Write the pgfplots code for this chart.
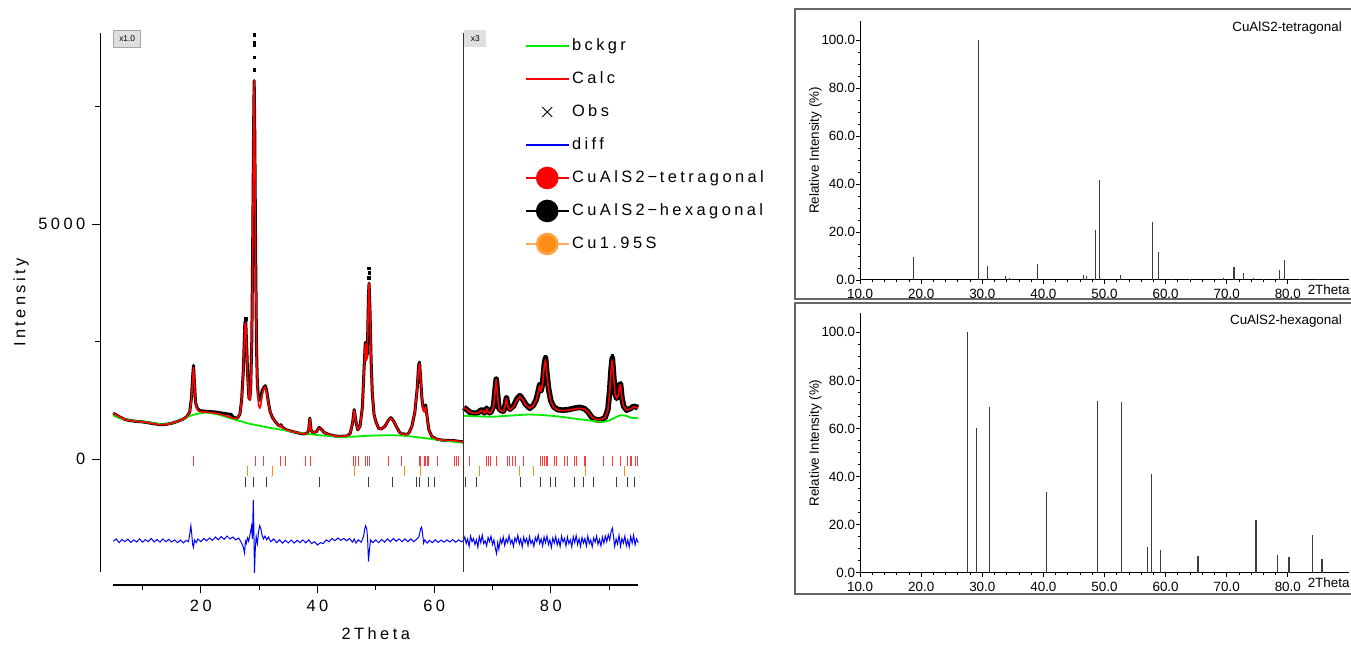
\documentclass[border=0pt]{standalone}
\usepackage{fontspec}
\setmainfont{Liberation Sans}
\newfontfamily\wide[LetterSpace=21]{Liberation Sans}
\usepackage{pgfplots}
\pgfplotsset{compat=1.18}
\definecolor{cgreen}{RGB}{0,235,0}
\definecolor{cred}{RGB}{255,0,0}
\definecolor{tkred}{RGB}{255,60,60}
\definecolor{corange}{RGB}{255,140,20}
\definecolor{cstick}{RGB}{60,60,60}

\begin{document}
\begin{tikzpicture}
\path[use as bounding box] (0,0) rectangle (675.5pt,324pt);

% ---------------- Rietveld plot ----------------
\begin{axis}[
  at={(56.65pt,38pt)}, anchor=south west, scale only axis,
  width=262.5pt, height=269.5pt,
  xmin=5, xmax=95, ymin=-2404, ymax=9064, clip=false,
  axis x line=bottom, axis y line=left, separate axis lines,
  axis x line shift=6.5pt, axis y line shift=6.5pt,
  axis line style={-, line width=0.6pt},
  xtick={20,40,60,80}, minor xtick={10,30,50,70,90},
  ytick={0,5000}, minor ytick={2500,7500},
  tick align=outside, major tick length=4pt, minor tick length=2.5pt,
  tick style={black, line width=0.5pt},
  /pgf/number format/assume math mode=true,
  /pgf/number format/1000 sep={},
  tick label style={font=\wide\fontsize{8.2}{9}\selectfont},
  label style={font=\wide\fontsize{8.2}{9}\selectfont},
  xlabel={2Theta}, ylabel={Intensity},
  ylabel style={yshift=-2pt}, xlabel style={yshift=-1pt},
  legend style={draw=none, fill=none, at={(rel axis cs:0.771,1.0045)}, anchor=north west,
    font=\wide\fontsize{8.2}{9}\selectfont, row sep=5.5pt,
    nodes={inner sep=1pt, text height=7pt, text depth=2pt},
    /tikz/every even column/.append style={column sep=1pt}},
  legend cell align=left,
  legend image code/.code={\draw[mark repeat=2,mark phase=2,#1] plot coordinates {(0pt,0pt) (10.75pt,0pt) (21.5pt,0pt)};},
]
\addlegendimage{cgreen, line width=1.3pt}\addlegendentry{bckgr}
\addlegendimage{cred, line width=1.3pt}\addlegendentry{Calc}
\addlegendimage{only marks, mark=x, mark size=3.5pt, black, line width=0.5pt}\addlegendentry{Obs}
\addlegendimage{blue, line width=1.3pt}\addlegendentry{diff}
\addlegendimage{cred, line width=1.3pt, mark=*, mark size=5pt, mark options={fill=cred}}\addlegendentry{CuAlS2\,\textminus\,tetragonal}
\addlegendimage{black, line width=1.3pt, mark=*, mark size=5pt, mark options={fill=black}}\addlegendentry{CuAlS2\,\textminus\,hexagonal}
\addlegendimage{corange!70, line width=1.3pt, mark=*, mark size=5pt, mark options={fill=corange, draw=corange!80}}\addlegendentry{Cu1.95S}

% reflection markers
\addplot[forget plot, only marks, mark=|, mark size=2.5pt, tkred, mark options={line width=0.5pt}] coordinates {
(18.8,-45) (29.3,-45) (30.7,-45) (33.7,-45) (34.5,-45) (37.9,-45) (38.8,-45)
(46.2,-45) (46.6,-45) (47.0,-45) (48.3,-45) (48.6,-45) (49.0,-45) (52.2,-45) (54.4,-45)
(57.5,-45) (57.7,-45) (58.4,-45) (58.5,-45) (58.8,-45) (59.0,-45) (60.6,-45)
(63.5,-45) (63.8,-45) (64.1,-45) (66.0,-45) (69.0,-45) (69.4,-45) (69.7,-45) (70.7,-45)
(72.5,-45) (73.0,-45) (73.4,-45) (74.0,-45) (75.3,-45) (78.3,-45) (78.6,-45) (79.0,-45)
(79.2,-45) (79.5,-45) (80.7,-45) (81.0,-45) (82.4,-45) (82.9,-45) (84.1,-45) (84.4,-45)
(85.7,-45) (86.0,-45) (89.1,-45) (90.6,-45) (92.0,-45) (93.2,-45) (93.6,-45) (93.9,-45)
(94.6,-45) (94.9,-45)};
\addplot[forget plot, only marks, mark=|, mark size=2.5pt, corange, mark options={line width=0.5pt}] coordinates {
(28.0,-265) (32.3,-265) (46.3,-265) (55.0,-265) (57.7,-265) (67.7,-265) (74.7,-265)
(77.1,-265) (85.9,-265) (92.7,-265)};
\addplot[forget plot, only marks, mark=|, mark size=2.5pt, cstick, mark options={line width=0.5pt}] coordinates {
(27.6,-490) (29.0,-490) (31.2,-490) (40.4,-490) (48.8,-490) (52.8,-490) (57.0,-490)
(57.5,-490) (59.1,-490) (60.0,-490) (65.3,-490) (67.3,-490) (74.8,-490) (78.3,-490)
(80.0,-490) (80.8,-490) (84.1,-490) (85.6,-490) (87.4,-490) (91.3,-490) (93.1,-490) (94.3,-490)};

% difference curve
\addplot[forget plot, blue, line width=0.5pt] coordinates {
(5.0,-1750) (5.5,-1700) (6.0,-1780) (6.5,-1710) (7.0,-1760) (7.5,-1705) (8.0,-1775) (8.5,-1720)
(9.0,-1765) (9.5,-1700) (10.0,-1770) (10.5,-1715) (11.0,-1760) (11.5,-1690) (12.0,-1765) (12.5,-1710)
(13.0,-1770) (13.5,-1700) (14.0,-1760) (14.5,-1710) (15.0,-1765) (15.5,-1720) (16.0,-1780) (16.5,-1725)
(17.0,-1785) (17.5,-1730) (17.9,-1760) (18.15,-1550) (18.3,-1420) (18.45,-1600) (18.6,-1820) (18.75,-1880)
(18.9,-1720) (19.2,-1780) (19.5,-1700) (20.0,-1760) (20.5,-1690) (21.0,-1740) (21.5,-1680) (22.0,-1730)
(22.5,-1660) (23.0,-1720) (23.5,-1650) (24.0,-1710) (24.5,-1640) (25.0,-1700) (25.5,-1660) (26.0,-1720)
(26.5,-1680) (27.0,-1790) (27.3,-1880) (27.5,-2000) (27.65,-1750) (27.8,-1800) (28.0,-1680) (28.2,-1750)
(28.45,-1600) (28.7,-1430) (28.85,-1700) (29.0,-870) (29.1,-1500) (29.2,-2420) (29.35,-1900) (29.5,-1650)
(29.7,-1800) (29.9,-1550) (30.1,-1420) (30.3,-1480) (30.5,-1620) (30.75,-1700) (31.0,-1640) (31.3,-1720)
(31.6,-1660) (32.0,-1760) (32.5,-1700) (33.0,-1780) (33.5,-1720) (34.0,-1790) (34.5,-1730) (35.0,-1785)
(35.5,-1725) (36.0,-1790) (36.5,-1730) (37.0,-1780) (37.5,-1720) (38.0,-1785) (38.5,-1720) (39.0,-1800)
(39.5,-1760) (40.0,-1830) (40.5,-1780) (41.0,-1800) (41.5,-1720) (42.0,-1760) (42.5,-1690) (43.0,-1740)
(43.5,-1680) (44.0,-1730) (44.5,-1690) (45.0,-1740) (45.5,-1690) (46.0,-1770) (46.3,-1700) (46.6,-1790)
(47.0,-1720) (47.5,-1770) (47.9,-1650) (48.1,-1500) (48.25,-1420) (48.45,-1480) (48.6,-1700) (48.75,-2180)
(48.9,-1950) (49.1,-1720) (49.5,-1780) (50.0,-1720) (50.5,-1780) (51.0,-1710) (51.5,-1770) (52.0,-1700)
(52.5,-1760) (53.0,-1690) (53.5,-1750) (54.0,-1700) (54.5,-1760) (55.0,-1700) (55.5,-1760) (56.0,-1700)
(56.5,-1760) (57.0,-1710) (57.4,-1650) (57.7,-1480) (57.85,-1450) (58.0,-1560) (58.2,-1790) (58.4,-1720)
(58.8,-1790) (59.2,-1730) (59.7,-1780) (60.2,-1720) (60.7,-1775) (61.2,-1725) (61.7,-1770) (62.2,-1720)
(62.7,-1765) (63.2,-1715) (63.7,-1770) (64.2,-1720) (64.7,-1760) (65.0,-1740)
(65.25,-1660) (65.5,-1800) (65.75,-1700) (66.0,-1860) (66.25,-1640) (66.5,-1760) (66.75,-1690) (67.0,-1820)
(67.25,-1720) (67.5,-1880) (67.75,-1650) (68.0,-1780) (68.25,-1620) (68.5,-1800) (68.75,-1740) (69.0,-1850)
(69.25,-1670) (69.5,-1760) (69.75,-1640) (70.0,-1820) (70.25,-1720) (70.5,-1900) (70.7,-2010) (70.9,-1780)
(71.1,-1920) (71.35,-1700) (71.6,-1800) (71.85,-1660) (72.1,-1840) (72.35,-1700) (72.6,-1780) (72.85,-1630)
(73.1,-1800) (73.35,-1720) (73.6,-1860) (73.85,-1680) (74.1,-1760) (74.35,-1620) (74.6,-1810) (74.85,-1700)
(75.1,-1870) (75.35,-1660) (75.6,-1780) (75.85,-1690) (76.1,-1840) (76.35,-1650) (76.6,-1800) (76.85,-1730)
(77.1,-1860) (77.35,-1670) (77.6,-1760) (77.85,-1620) (78.1,-1800) (78.35,-1700) (78.6,-1850) (78.85,-1660)
(79.1,-1780) (79.35,-1640) (79.6,-1820) (79.85,-1720) (80.1,-1880) (80.35,-1680) (80.6,-1790) (80.85,-1650)
(81.1,-1830) (81.35,-1710) (81.6,-1860) (81.85,-1640) (82.1,-1770) (82.35,-1690) (82.6,-1850) (82.85,-1660)
(83.1,-1800) (83.35,-1720) (83.6,-1870) (83.85,-1650) (84.1,-1780) (84.35,-1630) (84.6,-1820) (84.85,-1700)
(85.1,-1860) (85.35,-1670) (85.6,-1790) (85.85,-1690) (86.1,-1850) (86.35,-1640) (86.6,-1800) (86.85,-1720)
(87.1,-1870) (87.35,-1680) (87.6,-1770) (87.85,-1640) (88.1,-1820) (88.35,-1710) (88.6,-1850) (88.85,-1660)
(89.1,-1790) (89.35,-1640) (89.6,-1760) (89.85,-1610) (90.1,-1720) (90.35,-1540) (90.55,-1470) (90.75,-1640)
(90.95,-1860) (91.2,-1700) (91.45,-1810) (91.7,-1620) (91.95,-1860) (92.2,-1690) (92.45,-1790) (92.7,-1640)
(92.95,-1850) (93.2,-1720) (93.45,-1870) (93.7,-1650) (93.95,-1790) (94.2,-1620) (94.45,-1830) (94.7,-1700)
(95.0,-1780)};

% observed (x1.0 part)
\addplot[forget plot, black, line width=1.5pt, line join=round] coordinates {
(5.0,975) (6.0,900) (7.0,840) (8.0,815) (9.0,800) (10.0,790) (11.0,770) (12.0,750) (13.0,730)
(14.0,735) (15.0,760) (16.0,800) (17.0,850) (17.6,900) (18.1,1000) (18.4,1300) (18.6,1750)
(18.75,1990) (18.9,1650) (19.1,1200) (19.4,1080) (19.8,1030) (20.5,1020) (21.5,1010) (22.5,1000)
(23.5,980) (24.5,960) (25.2,950) (25.5,900) (26.2,860) (26.7,950) (27.0,1250) (27.3,1900)
(27.55,2900) (27.7,2950) (27.85,2450) (28.05,1750) (28.25,1300) (28.4,1270) (28.55,1500) (28.75,2550)
(28.9,4600) (29.05,7000) (29.15,8050) (29.25,7000) (29.4,4400) (29.55,2400) (29.7,1600) (29.9,1300)
(30.1,1250) (30.3,1300) (30.5,1450) (30.8,1520) (31.05,1560) (31.3,1450) (31.6,1200) (31.9,1000)
(32.3,880) (32.8,790) (33.3,720) (33.6,700) (33.75,730) (33.9,690) (34.5,630) (35.5,590) (36.5,560)
(37.5,535) (38.2,540) (38.5,620) (38.7,870) (38.9,620) (39.2,560) (39.8,580) (40.3,670) (40.6,640)
(41.2,560) (42.0,520) (43.0,490) (44.0,480) (45.0,490) (45.6,540) (46.0,750) (46.3,1050) (46.6,800)
(46.9,620) (47.3,700) (47.7,1100) (48.0,1950) (48.2,2480) (48.4,2150) (48.55,2250) (48.75,3500)
(48.85,3740) (49.0,3200) (49.2,2100) (49.4,1400) (49.7,950) (50.0,800) (50.5,650) (51.0,640)
(51.6,700) (52.2,830) (52.6,880) (53.0,820) (53.5,700) (54.0,580) (54.5,520) (54.8,540) (55.2,510)
(55.7,560) (56.2,700) (56.7,1000) (57.1,1500) (57.35,2000) (57.5,2060) (57.7,1700) (57.9,1300)
(58.1,1100) (58.3,1050) (58.55,1150) (58.8,900) (59.1,620) (59.6,480) (60.5,420) (61.5,400)
(62.5,395) (63.5,390) (64.5,370) (64.95,365)};
% observed (x3 part)
\addplot[forget plot, black, line width=2.8pt, line join=round] coordinates {
(65.1,1100) (65.5,1060) (66.2,990) (67.0,970) (67.6,990) (68.0,1040) (68.3,1040) (68.6,980)
(69.0,1080) (69.3,990) (69.7,990) (70.2,1130) (70.45,1460) (70.65,1700) (70.85,1400) (71.1,1080)
(71.5,1030) (71.9,1020) (72.2,1160) (72.4,1300) (72.65,1130) (73.0,1060) (73.6,1130) (74.2,1280)
(74.7,1350) (75.2,1270) (75.7,1160) (76.4,1080) (77.0,1140) (77.5,1260) (77.9,1470) (78.1,1580)
(78.35,1460) (78.6,1620) (78.9,2020) (79.1,2150) (79.3,1860) (79.6,1510) (80.0,1240) (80.5,1110)
(81.2,1050) (82.0,1040) (83.0,1050) (84.0,1080) (85.0,1100) (85.8,1070) (86.4,1000) (87.0,890)
(87.6,840) (88.5,830) (89.3,880) (89.8,1060) (90.1,1460) (90.35,1920) (90.55,2150) (90.75,1810)
(91.0,1410) (91.3,1290) (91.55,1360) (91.8,1580) (91.95,1600) (92.2,1300) (92.5,1120) (93.0,1040)
(93.6,1070) (94.2,1120) (94.6,1110) (94.95,1090)};

% background
\addplot[forget plot, cgreen, line width=0.9pt, smooth] coordinates {
(5.0,930) (6,870) (8,820) (10,790) (12,760) (13,740) (14,740) (15,760) (16,800) (17,850) (18,910)
(19,950) (20,975) (21,985) (22,970) (23,945) (24,910) (25,870) (26,830) (27,800) (28,760) (30,710)
(32,660) (34,620) (36,570) (38,540) (40,510) (42,490) (44,470) (46,475) (48,490) (50,500) (52,505)
(54,500) (56,480) (58,450) (60,420) (62,390) (64,360) (65,350)};
\addplot[forget plot, cgreen, line width=0.9pt, smooth] coordinates {
(65.05,920) (66,915) (68,905) (70,900) (72,915) (74,930) (76,945) (78,940) (80,920) (82,895)
(84,860) (86,830) (88,800) (89,790) (90,820) (91,880) (92,930) (93,915) (94,870) (95,880)};

% calculated
\addplot[forget plot, cred, line width=0.8pt, line join=round] coordinates {
(5.0,975) (6.0,900) (7.0,840) (8.0,815) (9.0,800) (10.0,790) (11.0,770) (12.0,750) (13.0,730)
(14.0,735) (15.0,760) (16.0,800) (17.0,850) (17.6,900) (18.1,1000) (18.4,1250) (18.6,1700)
(18.75,1950) (18.9,1650) (19.1,1200) (19.4,1050) (19.8,1010) (20.5,1000) (21.5,990) (22.5,975)
(23.5,950) (24.5,910) (25.5,870) (26.2,860) (26.7,950) (27.0,1250) (27.3,1900) (27.55,2850)
(27.7,2900) (27.85,2400) (28.05,1700) (28.25,1300) (28.4,1250) (28.55,1450) (28.75,2500)
(28.9,4500) (29.05,7000) (29.15,8050) (29.25,7000) (29.4,4300) (29.55,2300) (29.7,1500)
(29.9,1150) (30.1,1080) (30.3,1150) (30.5,1350) (30.8,1500) (31.05,1540) (31.3,1400) (31.6,1200)
(31.9,1000) (32.3,880) (32.8,790) (33.3,720) (33.6,690) (33.75,720) (33.9,680) (34.5,630)
(35.5,590) (36.5,560) (37.5,535) (38.2,540) (38.5,620) (38.7,860) (38.9,620) (39.2,560) (39.8,580)
(40.3,660) (40.6,640) (41.2,560) (42.0,520) (43.0,490) (44.0,480) (45.0,490) (45.6,540) (46.0,750)
(46.3,1040) (46.6,800) (46.9,620) (47.3,700) (47.7,1100) (48.0,1900) (48.2,2450) (48.4,2100)
(48.55,2200) (48.75,3500) (48.85,3740) (49.0,3200) (49.2,2100) (49.4,1400) (49.7,950) (50.0,800)
(50.5,650) (51.0,640) (51.6,700) (52.2,830) (52.6,870) (53.0,820) (53.5,700) (54.0,580) (54.5,520)
(54.8,530) (55.2,510) (55.7,560) (56.2,700) (56.7,1000) (57.1,1500) (57.35,1950) (57.5,2040)
(57.7,1700) (57.9,1300) (58.1,1050) (58.3,1000) (58.55,1110) (58.8,900) (59.1,620) (59.6,480)
(60.5,420) (61.5,400) (62.5,395) (63.5,390) (64.5,370) (64.95,365)};
\addplot[forget plot, cred, line width=0.8pt, line join=round] coordinates {
(65.05,1100) (65.5,1060) (66.2,990) (67.0,970) (67.6,980) (68.0,1030) (68.3,1030) (68.6,970)
(69.0,1070) (69.3,980) (69.7,980) (70.2,1120) (70.45,1450) (70.65,1690) (70.85,1400) (71.1,1070)
(71.5,1020) (71.9,1010) (72.2,1150) (72.4,1290) (72.65,1120) (73.0,1040) (73.6,1110) (74.2,1250)
(74.7,1330) (75.2,1260) (75.7,1150) (76.4,1080) (77.0,1130) (77.5,1250) (77.9,1450) (78.1,1560)
(78.35,1440) (78.6,1600) (78.9,2000) (79.1,2110) (79.3,1850) (79.6,1500) (80.0,1230) (80.5,1100)
(81.2,1040) (82.0,1030) (83.0,1040) (84.0,1060) (85.0,1080) (85.8,1060) (86.4,1000) (87.0,900)
(87.6,850) (88.5,835) (89.3,880) (89.8,1050) (90.1,1450) (90.35,1900) (90.55,2110) (90.75,1800)
(91.0,1400) (91.3,1290) (91.55,1350) (91.8,1560) (91.95,1580) (92.2,1300) (92.5,1120) (93.0,1040)
(93.6,1060) (94.2,1110) (94.6,1100) (95.0,1080)};

% observed points above the calculated peak tops
\addplot[forget plot, only marks, mark=square*, mark size=0.6pt, black] coordinates {
(29.15,8280) (29.2,8540) (29.15,8800) (29.15,8870) (29.15,9020)
(48.85,3850) (48.9,3960) (48.85,4050) (27.7,2980) (79.1,2180) (90.55,2190)};

% scale change marker
\addplot[forget plot, black!80, line width=0.6pt] coordinates {(65,-2404) (65,9064)};

\node[anchor=north west, fill=gray!25, draw=gray!70, inner sep=0pt, minimum width=13.5pt,
  minimum height=8.5pt, font=\fontsize{4.2}{5}\selectfont] at (axis cs:5,9064) [yshift=1.5pt] {x1.0};
\node[anchor=north west, fill=gray!25, inner sep=0pt, minimum width=11pt,
  minimum height=8.5pt, font=\fontsize{4.2}{5}\selectfont] at (axis cs:65.1,9064) [yshift=1.5pt] {x3};
\end{axis}

% ---------------- reference pattern: tetragonal ----------------
\begin{axis}[
  at={(430.05pt,184pt)}, anchor=south west, scale only axis,
  width=244.4pt, height=129.6pt,
  xmin=10, xmax=90, ymin=0, ymax=108, clip=false,
  axis lines=left, axis line style={-, line width=0.5pt},
  xtick={10,20,...,80}, ytick={0,20,...,100},
  minor x tick num=4, minor y tick num=3,
  tick align=outside, major tick length=2pt, minor tick length=1.2pt,
  tick style={black, line width=0.4pt},
  /pgf/number format/assume math mode=true,
  /pgf/number format/fixed, /pgf/number format/fixed zerofill, /pgf/number format/precision=1,
  tick label style={font=\fontsize{6.7}{7}\selectfont},
  xticklabel style={yshift=1pt}, yticklabel style={xshift=3pt},
  ylabel={Relative Intensity (\%)}, ylabel style={font=\fontsize{6.7}{7}\selectfont, yshift=-7pt},
]
\addplot[ycomb, cstick, line width=0.55pt] coordinates {
(18.75,9.7) (29.4,100) (30.9,6) (33.8,1.5) (34.5,0.8) (39.0,6.5) (46.5,2) (47.0,1.8)
(48.6,21) (49.2,41.5) (52.6,2) (57.8,24) (58.8,11.5) (61.1,0.5) (64.0,0.4) (69.5,1)
(71.2,5.5) (72.8,3) (74.4,0.8) (76.0,0.6) (78.7,4.2) (79.5,8.5) (82.0,0.3) (85.0,0.3)};
\node[anchor=east, font=\fontsize{6.7}{7}\selectfont] at (rel axis cs:1,1) [yshift=-3.6pt] {CuAlS2-tetragonal};
\node[anchor=north east, font=\fontsize{6.7}{7}\selectfont, inner sep=0pt] at (rel axis cs:1,0) [yshift=-2.2pt, xshift=0.5pt] {2Theta};
\end{axis}

% ---------------- reference pattern: hexagonal ----------------
\begin{axis}[
  at={(430.05pt,37.65pt)}, anchor=south west, scale only axis,
  width=244.4pt, height=129.8pt,
  xmin=10, xmax=90, ymin=0, ymax=108, clip=false,
  axis lines=left, axis line style={-, line width=0.5pt},
  xtick={10,20,...,80}, ytick={0,20,...,100},
  minor x tick num=4, minor y tick num=3,
  tick align=outside, major tick length=2pt, minor tick length=1.2pt,
  tick style={black, line width=0.4pt},
  /pgf/number format/assume math mode=true,
  /pgf/number format/fixed, /pgf/number format/fixed zerofill, /pgf/number format/precision=1,
  tick label style={font=\fontsize{6.7}{7}\selectfont},
  xticklabel style={yshift=1pt}, yticklabel style={xshift=3pt},
  ylabel={Relative Intensity (\%)}, ylabel style={font=\fontsize{6.7}{7}\selectfont, yshift=-7pt},
]
\addplot[ycomb, cstick, line width=0.55pt] coordinates {
(27.6,100) (29.0,60) (31.2,69) (40.5,33.5) (48.8,71.5) (52.8,71) (57.0,10.5) (57.7,41)
(59.1,9.5) (65.3,7) (74.8,22) (78.3,7.5) (80.2,6.5) (84.1,15.5) (85.6,5.5)};
\node[anchor=east, font=\fontsize{6.7}{7}\selectfont] at (rel axis cs:1,1) [yshift=-4pt] {CuAlS2-hexagonal};
\node[anchor=north east, font=\fontsize{6.7}{7}\selectfont, inner sep=0pt] at (rel axis cs:1,0) [yshift=-2.2pt, xshift=0.5pt] {2Theta};
\end{axis}

% panel frames
\draw[black!60, line width=0.6pt] (675.5pt,319.5pt) -- (397.5pt,319.5pt) -- (397.5pt,174.5pt) -- (675.5pt,174.5pt);
\draw[black!60, line width=0.6pt] (675.5pt,172.5pt) -- (397.5pt,172.5pt) -- (397.5pt,27pt) -- (675.5pt,27pt);
\end{tikzpicture}
\end{document}
